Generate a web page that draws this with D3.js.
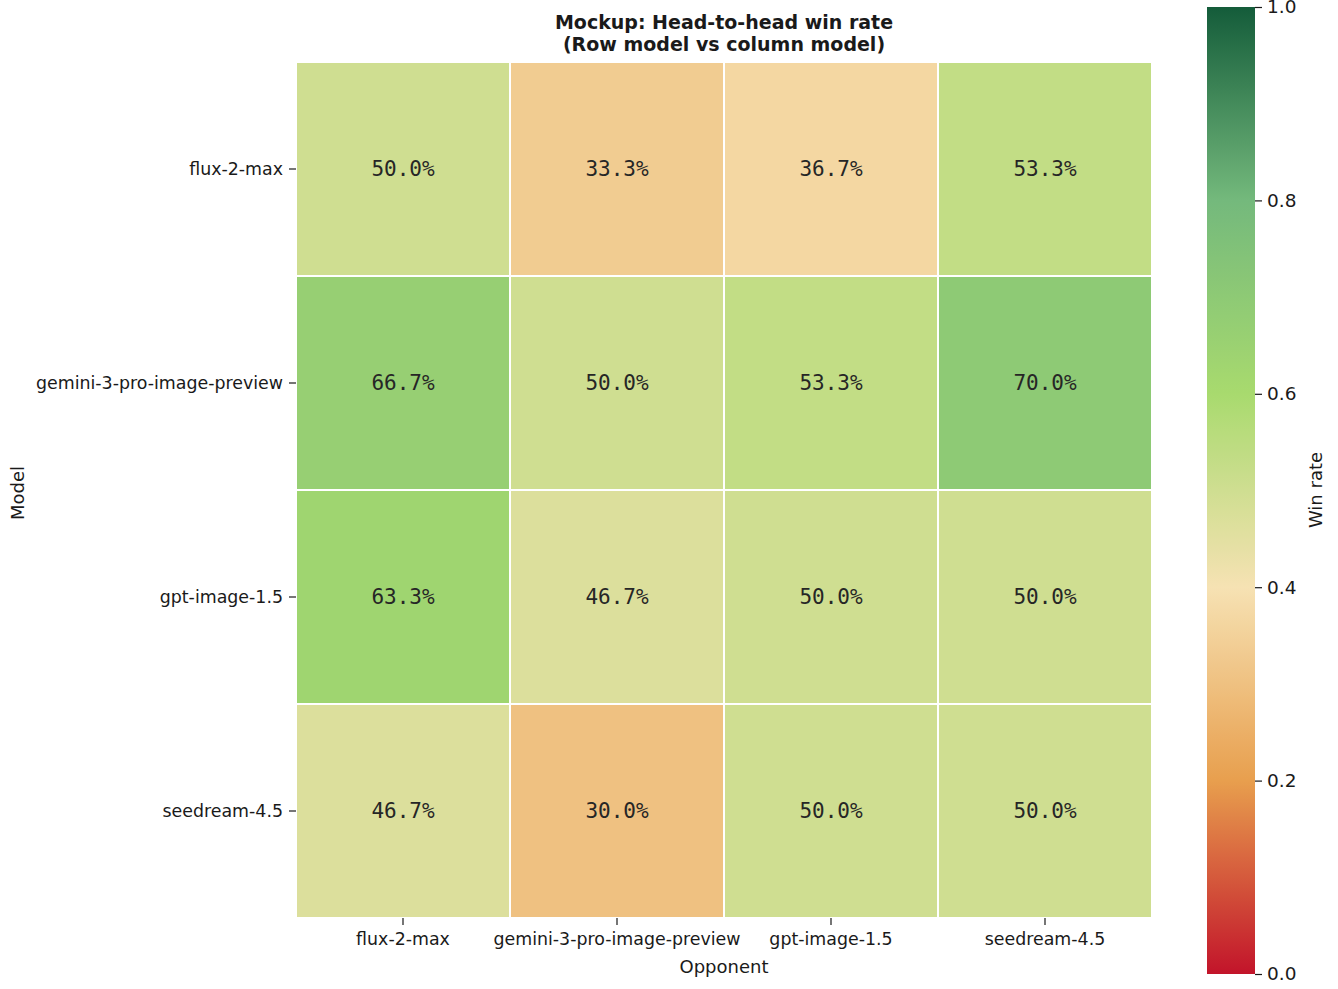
<!DOCTYPE html>
<html><head><meta charset="utf-8">
<script src="https://cdn.jsdelivr.net/npm/d3@7"></script>
<style>body{margin:0;background:#fff}svg{display:block}text{font-family:"DejaVu Sans",sans-serif;fill:#1a1a1a}</style>
</head><body>
<script>
const rows = ["flux-2-max","gemini-3-pro-image-preview","gpt-image-1.5","seedream-4.5"];
const cols = ["flux-2-max","gemini-3-pro-image-preview","gpt-image-1.5","seedream-4.5"];
const flux = [0.500,0.333,0.367,0.533];
const gemini = [0.667,0.500,0.533,0.700];
const gpt = [0.633,0.467,0.500,0.500];
const seedream = [0.467,0.300,0.500,0.500];
const values = [flux,gemini,gpt,seedream];
const cbTicks = [0,0.2,0.4,0.6,0.8,1.0];
const stopPos = [0,0.2,0.4,0.6,0.8,1.0];
const stopCol = ["#c2142a","#e89f4e","#f6e2b3","#a8da6e","#74b97c","#145c3a"];

const W=1338,H=989;
const svg=d3.select("body").append("svg").attr("width",W).attr("height",H);
const x=d3.scaleBand().domain(cols).range([296,1152]);
const y=d3.scaleBand().domain(rows).range([62,918]);
const color=d3.scaleLinear().domain(stopPos).range(stopCol).interpolate(d3.interpolateRgb).clamp(true);

const cells=[];
values.forEach((r,i)=>r.forEach((v,j)=>cells.push({r:rows[i],c:cols[j],v})));
svg.append("g").selectAll("rect").data(cells).join("rect")
 .attr("x",d=>x(d.c)).attr("y",d=>y(d.r)).attr("width",x.bandwidth()).attr("height",y.bandwidth())
 .attr("fill",d=>color(d.v)).attr("stroke","#fff").attr("stroke-width",2);
svg.append("g").selectAll("text").data(cells).join("text")
 .attr("x",d=>x(d.c)+x.bandwidth()/2).attr("y",d=>y(d.r)+y.bandwidth()/2)
 .attr("text-anchor","middle").attr("dominant-baseline","central")
 .style("font-family","'DejaVu Sans Mono',monospace").style("font-size","21px").style("fill","#262626")
 .text(d=>(d.v*100).toFixed(1)+"%");

const xa=svg.append("g").attr("transform","translate(0,918)").call(d3.axisBottom(x).tickSize(7).tickPadding(8));
xa.select(".domain").remove();
xa.selectAll("text").style("font-size","17.4px").style("font-family","DejaVu Sans").attr("fill","#1a1a1a");
xa.selectAll("line").attr("stroke","#1a1a1a").attr("stroke-width",1.2);
const ya=svg.append("g").attr("transform","translate(296,0)").call(d3.axisLeft(y).tickSize(7).tickPadding(6));
ya.select(".domain").remove();
ya.selectAll("text").style("font-size","17.4px").style("font-family","DejaVu Sans").attr("fill","#1a1a1a");
ya.selectAll("line").attr("stroke","#1a1a1a").attr("stroke-width",1.2);

svg.append("text").attr("x",724).attr("y",29).attr("text-anchor","middle").style("font-size","19px").style("font-weight","bold").text("Mockup: Head-to-head win rate");
svg.append("text").attr("x",724).attr("y",51).attr("text-anchor","middle").style("font-size","19px").style("font-weight","bold").text("(Row model vs column model)");
svg.append("text").attr("x",724).attr("y",973).attr("text-anchor","middle").style("font-size","18px").text("Opponent");
svg.append("text").attr("transform","translate(24,493) rotate(-90)").attr("text-anchor","middle").style("font-size","18px").text("Model");

// colorbar
const cy=d3.scaleLinear().domain([0,1]).range([974,7]);
const defs=svg.append("defs");
const grad=defs.append("linearGradient").attr("id","cb").attr("x1",0).attr("y1",1).attr("x2",0).attr("y2",0);
d3.range(0,1.0001,0.02).forEach(t=>grad.append("stop").attr("offset",t).attr("stop-color",color(t)));
svg.append("rect").attr("x",1207).attr("y",7).attr("width",48).attr("height",967).attr("fill","url(#cb)");
const ca=svg.append("g").attr("transform","translate(1255,0)").call(d3.axisRight(cy).tickValues(cbTicks).tickFormat(d3.format(".1f")).tickSize(7).tickPadding(5));
ca.select(".domain").remove();
ca.selectAll("text").style("font-size","18.5px").style("font-family","DejaVu Sans").attr("fill","#1a1a1a");
ca.selectAll("line").attr("stroke","#1a1a1a").attr("stroke-width",1.2);
svg.append("text").attr("transform","translate(1322,490) rotate(-90)").attr("text-anchor","middle").style("font-size","18px").text("Win rate");
</script>
</body></html>
